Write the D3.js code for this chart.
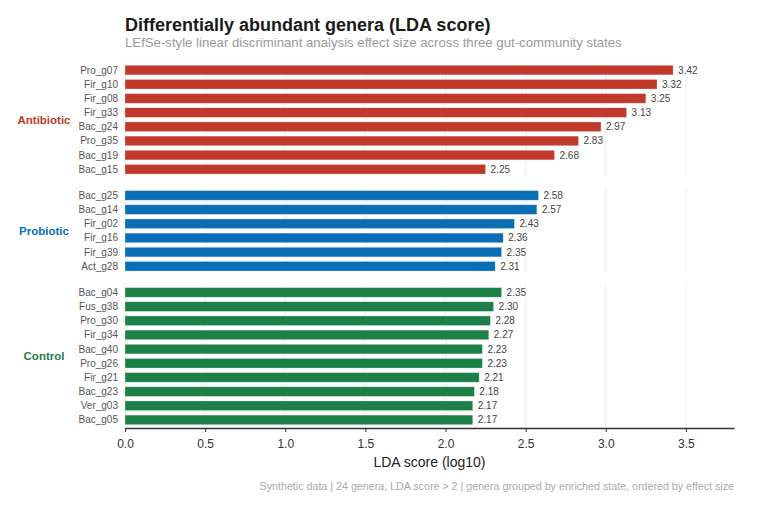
<!DOCTYPE html>
<html>
<head>
<meta charset="utf-8">
<script src="https://cdn.jsdelivr.net/npm/d3@7"></script>
<style>
  body { margin: 0; background: #fff; }
  svg { font-family: "Liberation Sans", Arial, Helvetica, sans-serif; }
</style>
</head>
<body>
<div id="chart"></div>
<script>
// data
const groups = ['Antibiotic', 'Probiotic', 'Control'];
const groupColors = ['#c0392b', '#0a6eb4', '#1e8049'];

const antibioticGenera = ['Pro_g07', 'Fir_g10', 'Fir_g08', 'Fir_g33', 'Bac_g24', 'Pro_g35', 'Bac_g19', 'Bac_g15'];
const antibioticScores = [3.42, 3.32, 3.25, 3.13, 2.97, 2.83, 2.68, 2.25];

const probioticGenera = ['Bac_g25', 'Bac_g14', 'Fir_g02', 'Fir_g16', 'Fir_g39', 'Act_g28'];
const probioticScores = [2.58, 2.57, 2.43, 2.36, 2.35, 2.31];

const controlGenera = ['Bac_g04', 'Fus_g38', 'Pro_g30', 'Fir_g34', 'Bac_g40', 'Pro_g26', 'Fir_g21', 'Bac_g23', 'Ver_g03', 'Bac_g05'];
const controlScores = [2.35, 2.30, 2.28, 2.27, 2.23, 2.23, 2.21, 2.18, 2.17, 2.17];

const xTicks = [0, 0.5, 1.0, 1.5, 2.0, 2.5, 3.0, 3.5];

const generaByGroup = [antibioticGenera, probioticGenera, controlGenera];
const scoresByGroup = [antibioticScores, probioticScores, controlScores];

// layout
const W = 760, H = 506;
const margin = { top: 63, right: 26, bottom: 79, left: 125 };
const panelGap = 12;
const plotW = W - margin.left - margin.right;
const plotH = H - margin.top - margin.bottom;

const svg = d3.select('#chart').append('svg')
    .attr('width', W).attr('height', H);

const x = d3.scaleLinear().domain([0, 3.8]).range([margin.left, margin.left + plotW]);

// panel heights proportional to number of rows (free space facets)
const totalRows = d3.sum(generaByGroup, g => g.length);
const step = (plotH - panelGap * (groups.length - 1)) / totalRows;

let yCursor = margin.top;
groups.forEach((grp, gi) => {
    const genera = generaByGroup[gi];
    const scores = scoresByGroup[gi];
    const color = groupColors[gi];
    const panelH = genera.length * step;

    const y = d3.scaleBand()
        .domain(genera)
        .range([yCursor, yCursor + panelH])
        .paddingInner(0.32)
        .paddingOuter(0.16);

    const panel = svg.append('g').attr('class', 'panel');

    // vertical gridlines
    panel.selectAll('line.grid')
        .data(xTicks)
        .join('line')
        .attr('class', 'grid')
        .attr('x1', d => x(d)).attr('x2', d => x(d))
        .attr('y1', yCursor).attr('y2', yCursor + panelH)
        .attr('stroke', '#ececec')
        .attr('stroke-width', 1);

    const rows = genera.map((g, i) => ({ genus: g, score: scores[i] }));

    panel.selectAll('rect.bar')
        .data(rows)
        .join('rect')
        .attr('class', 'bar')
        .attr('x', x(0))
        .attr('y', d => y(d.genus))
        .attr('width', d => x(d.score) - x(0))
        .attr('height', y.bandwidth())
        .attr('fill', color)
        .attr('stroke', '#ffffff')
        .attr('stroke-opacity', 0.5)
        .attr('stroke-width', 0.6);

    // value labels
    panel.selectAll('text.val')
        .data(rows)
        .join('text')
        .attr('class', 'val')
        .attr('x', d => x(d.score) + 5)
        .attr('y', d => y(d.genus) + y.bandwidth() / 2)
        .attr('dy', '0.35em')
        .attr('font-size', '10px')
        .attr('fill', '#444')
        .text(d => d.score.toFixed(2));

    // genus labels
    panel.selectAll('text.genus')
        .data(rows)
        .join('text')
        .attr('class', 'genus')
        .attr('x', margin.left - 7)
        .attr('y', d => y(d.genus) + y.bandwidth() / 2)
        .attr('dy', '0.35em')
        .attr('text-anchor', 'end')
        .attr('font-size', '10px')
        .attr('fill', '#555')
        .text(d => d.genus);

    // group label
    svg.append('text')
        .attr('x', 44)
        .attr('y', yCursor + panelH / 2)
        .attr('dy', '0.35em')
        .attr('text-anchor', 'middle')
        .attr('font-size', '11.5px')
        .attr('font-weight', 'bold')
        .attr('fill', color)
        .text(grp);

    yCursor += panelH + panelGap;
});

// x axis
const axisY = margin.top + plotH + 1;
const xAxis = svg.append('g')
    .attr('transform', `translate(0,${axisY})`)
    .call(d3.axisBottom(x).tickValues(xTicks).tickFormat(d3.format('.1f')).tickSize(4).tickSizeOuter(0));
xAxis.select('.domain').attr('stroke', '#333').attr('stroke-width', 1.3);
xAxis.selectAll('.tick line').attr('stroke', '#333');
xAxis.selectAll('.tick text')
    .attr('font-size', '12px')
    .attr('fill', '#333')
    .attr('dy', '1.05em')
    .attr('font-family', '"Liberation Sans", Arial, sans-serif');

svg.append('text')
    .attr('x', margin.left + plotW / 2)
    .attr('y', 467)
    .attr('text-anchor', 'middle')
    .attr('font-size', '14px')
    .attr('fill', '#222')
    .text('LDA score (log10)');

// titles
svg.append('text')
    .attr('x', margin.left)
    .attr('y', 31)
    .attr('font-size', '18px')
    .attr('font-weight', 'bold')
    .attr('fill', '#1a1a1a')
    .text('Differentially abundant genera (LDA score)');

svg.append('text')
    .attr('x', margin.left)
    .attr('y', 47)
    .attr('font-size', '13.2px')
    .attr('fill', '#999')
    .text('LEfSe-style linear discriminant analysis effect size across three gut-community states');

// footer
svg.append('text')
    .attr('x', margin.left + plotW)
    .attr('y', 490)
    .attr('text-anchor', 'end')
    .attr('font-size', '10.7px')
    .attr('fill', '#aaa')
    .text('Synthetic data | 24 genera, LDA score > 2 | genera grouped by enriched state, ordered by effect size');
</script>
</body>
</html>
